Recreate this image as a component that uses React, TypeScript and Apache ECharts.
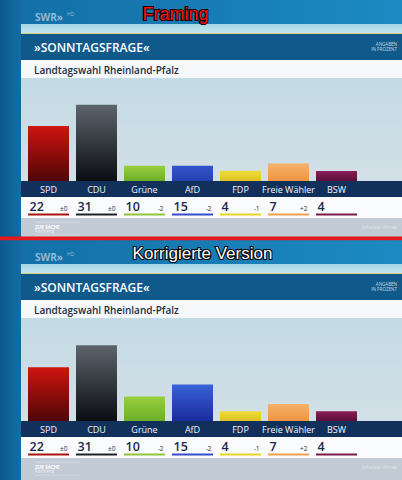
import * as React from "react";
import * as echarts from "echarts";

// Sonntagsfrage RLP — oben die "Framing"-Grafik, unten die korrigierte Version.
const parties = ["SPD", "CDU", "Grüne", "AfD", "FDP", "Freie Wähler", "BSW"];
const values = [22, 31, 10, 15, 4, 7, 4];
const changes = ["±0", "±0", "-2", "-2", "-1", "+2", ""];
const framedHeights = [22.5, 31.2, 6.3, 6.3, 4.2, 7.2, 4.1];
const correctHeights = values;

const barTop = ["#d0140f", "#5d646c", "#98cf3e", "#3a62d8", "#f0dc3a", "#f7b26a", "#8c1e57"];
const barBottom = ["#4e0606", "#0a0d11", "#6cae28", "#1a2b9c", "#dcc222", "#ee9442", "#5a0e38"];
const framedAfd = ["#3356cc", "#2440b0"];
const lineColors = ["#a81212", "#1e2226", "#8cc63f", "#2d4fc8", "#e6d42a", "#f0a050", "#7a1a4a"];

const FONT = '"Open Sans", "DejaVu Sans", sans-serif';
const W = 402;
const PANEL_OFFSETS = [0, 240];

function grad(top: string, bottom: string) {
  return new echarts.graphic.LinearGradient(0, 0, 0, 1, [
    { offset: 0, color: top },
    { offset: 1, color: bottom },
  ]);
}

function panelGraphics(dy: number) {
  const x0 = 21;
  const w = W - x0;
  return [
    { type: "rect", z: 0, shape: { x: 0, y: dy, width: W, height: dy === 0 ? 237 : 240 },
      style: { fill: new echarts.graphic.LinearGradient(0, 0, 1, 0, [
        { offset: 0, color: "#0c5a8c" }, { offset: 0.06, color: "#1470a8" }, { offset: 1, color: "#1c8ac2" }]) } },
    { type: "text", z: 1, x: 35, y: dy + 17,
      style: { text: "SWR»", fill: "#8fb8d4", font: `bold 10px ${FONT}`, verticalAlign: "middle" } },
    { type: "text", z: 1, x: 67, y: dy + 14,
      style: { text: "HD", fill: "#8fb8d4", font: `5px ${FONT}`, verticalAlign: "middle" } },
    { type: "rect", z: 1, shape: { x: x0, y: dy + 24, width: w, height: 9 },
      style: { fill: grad("#a6d6e6", "#c4e6ef") } },
    { type: "rect", z: 1, shape: { x: x0, y: dy + 33, width: w, height: 1.2 }, style: { fill: "#cfd07a" } },
    { type: "rect", z: 1, shape: { x: x0, y: dy + 34, width: w, height: 26 }, style: { fill: "#0f5a8b" } },
    { type: "text", z: 2, x: 34, y: dy + 47,
      style: { text: "»SONNTAGSFRAGE«", fill: "#ffffff", font: `600 12px ${FONT}`, verticalAlign: "middle" } },
    { type: "text", z: 2, x: 397, y: dy + 46.5,
      style: { text: "ANGABEN\nIN PROZENT", fill: "#c9d9e6", font: `4.5px ${FONT}`, align: "right",
        verticalAlign: "middle", lineHeight: 5 } },
    { type: "rect", z: 1, shape: { x: x0, y: dy + 60, width: w, height: 18 }, style: { fill: "#f6f8fa" } },
    { type: "text", z: 2, x: 34, y: dy + 69.5,
      style: { text: "Landtagswahl Rheinland-Pfalz", fill: "#1d2b45", font: `600 10px ${FONT}`, verticalAlign: "middle" } },
    { type: "rect", z: 1, shape: { x: x0, y: dy + 78, width: w, height: 103 },
      style: { fill: grad("#c3dbe5", "#d3dfe6") } },
    { type: "rect", z: 1, shape: { x: x0, y: dy + 181, width: w, height: 16 }, style: { fill: "#12305c" } },
    { type: "rect", z: 1, shape: { x: x0, y: dy + 197, width: w, height: 21 }, style: { fill: "#fafbfc" } },
    { type: "rect", z: 1, shape: { x: x0, y: dy + 218, width: w, height: dy === 0 ? 19 : 22 },
      style: { fill: "#c2cbd5" } },
    { type: "line", z: 2, shape: { x1: 35, y1: dy + 222.5, x2: 80, y2: dy + 222.5 },
      style: { stroke: "rgba(255,255,255,0.5)", lineWidth: 0.5 } },
    { type: "text", z: 2, x: 35, y: dy + 226.5,
      style: { text: "ZUR SACHE", fill: "#ffffff", font: `bold 4.5px ${FONT}`, verticalAlign: "middle" } },
    { type: "text", z: 2, x: 35, y: dy + 231,
      style: { text: "Politrend", fill: "#eef2f5", font: `4.5px ${FONT}`, verticalAlign: "middle" } },
    { type: "line", z: 2, shape: { x1: 35, y1: dy + 235, x2: 80, y2: dy + 235 },
      style: { stroke: "rgba(255,255,255,0.5)", lineWidth: 0.5 } },
    { type: "text", z: 2, x: 397, y: dy + 227,
      style: { text: "Infratest dimap", fill: "rgba(255,255,255,0.55)", font: `5px ${FONT}`, align: "right",
        verticalAlign: "middle" } },
  ];
}

export default function App() {
  const ref = React.useRef<HTMLDivElement | null>(null);

  React.useEffect(() => {
    if (!ref.current) return;
    const chart = echarts.init(ref.current, undefined, { renderer: "svg" });

    const grids = PANEL_OFFSETS.map((dy) => ({ left: 24.5, width: 336, top: dy + 78.5, height: 102.5 }));
    const xAxes = PANEL_OFFSETS.map((_, gi) => ({
      type: "category", gridIndex: gi, data: parties, z: 5,
      axisLine: { show: false }, axisTick: { show: false },
      axisLabel: { color: "#f2f5f9", fontSize: 9, fontWeight: "normal", fontFamily: FONT, margin: 4, interval: 0 },
    }));
    const yAxes = PANEL_OFFSETS.map((_, gi) => ({
      type: "value", gridIndex: gi, min: 0, max: 42, show: false, splitLine: { show: false },
    }));

    const barSeries = [framedHeights, correctHeights].map((heights, gi) => ({
      type: "bar", xAxisIndex: gi, yAxisIndex: gi, z: 5, barWidth: 41,
      data: heights.map((h, i) => ({
        value: h,
        itemStyle: {
          color: gi === 0 && i === 3 ? grad(framedAfd[0], framedAfd[1]) : grad(barTop[i], barBottom[i]),
        },
      })),
    }));

    const valueRows = PANEL_OFFSETS.map((_, gi) => ({
      type: "custom", xAxisIndex: gi, yAxisIndex: gi, z: 6, clip: false,
      data: values.map((v, i) => [i, 0, v]),
      renderItem: (_p: unknown, api: any) => {
        const i = api.value(0);
        const c = api.coord([i, 0]);
        const half = 20.5;
        return {
          type: "group",
          children: [
            { type: "text", x: c[0] - half + 1.5, y: c[1] + 25,
              style: { text: String(api.value(2)), fill: "#1c2a48", font: `600 12.5px ${FONT}`, verticalAlign: "middle" } },
            { type: "text", x: c[0] + half - 1.5, y: c[1] + 27.5,
              style: { text: changes[i], fill: "#1c2a48", font: `6.5px ${FONT}`, align: "right", verticalAlign: "middle" } },
            { type: "line", shape: { x1: c[0] - half, y1: c[1] + 33.5, x2: c[0] + half, y2: c[1] + 33.5 },
              style: { stroke: lineColors[i], lineWidth: 1.8 } },
          ],
        };
      },
    }));

    chart.setOption({
      animation: false,
      backgroundColor: "#1470a8",
      grid: grids,
      xAxis: xAxes,
      yAxis: yAxes,
      series: [...barSeries, ...valueRows],
      graphic: [
        ...panelGraphics(0),
        ...panelGraphics(240),
        { type: "rect", z: 3, shape: { x: 0, y: 236.5, width: W, height: 3.8 }, style: { fill: "#e3191d" } },
        { type: "text", z: 10, x: 175.5, y: 13.5,
          style: { text: "Framing", fill: "#ff1010", stroke: "#1a0000", lineWidth: 2.2,
            font: `18px "Liberation Sans", Arial, sans-serif`, align: "center", verticalAlign: "middle" } },
        { type: "text", z: 10, x: 202.5, y: 253.5,
          style: { text: "Korrigierte Version", fill: "#ffffff", stroke: "#000000", lineWidth: 2.2,
            font: `17px "Liberation Sans", Arial, sans-serif`, align: "center", verticalAlign: "middle" } },
      ],
    });

    return () => chart.dispose();
  }, []);

  return (
    <div
      ref={ref}
      style={{ position: "absolute", left: 0, top: 0, width: 402, height: 480 }}
      role="img"
      aria-label="Sonntagsfrage Landtagswahl Rheinland-Pfalz: Framing und korrigierte Version"
    />
  );
}
